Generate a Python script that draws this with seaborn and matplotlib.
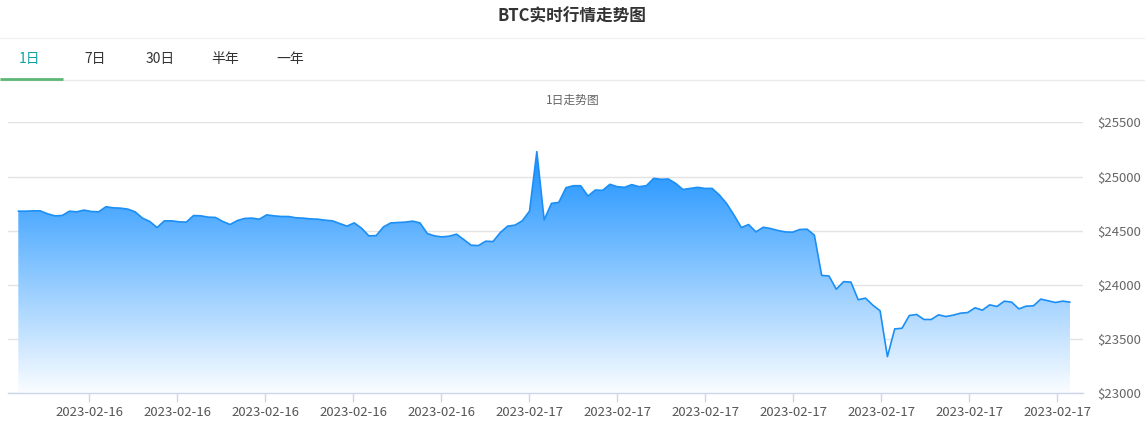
import numpy as np
import pandas as pd
import seaborn as sns
import matplotlib
matplotlib.use("Agg")
import matplotlib.pyplot as plt
from matplotlib.lines import Line2D
from matplotlib.colors import to_rgb

# ---------------- data ----------------
title = "BTC实时行情走势图"
subtitle = "1日走势图"
tabs = ["1日", "7日", "30日", "半年", "一年"]

prices = [
    24680, 24680, 24683, 24683, 24656, 24637, 24640, 24680, 24674, 24690,
    24677, 24674, 24721, 24711, 24708, 24699, 24674, 24616, 24585, 24529,
    24591, 24591, 24582, 24579, 24640, 24637, 24625, 24622, 24585,
    24557, 24594, 24613, 24616, 24606, 24646, 24637, 24631, 24631, 24619,
    24616, 24609, 24606, 24597, 24591, 24566, 24542, 24572, 24523, 24452,
    24455, 24535, 24572, 24575, 24579, 24588, 24572, 24474, 24452,
    24443, 24449, 24468, 24418, 24366, 24363, 24403, 24400, 24483, 24542,
    24551, 24591, 24681, 25230, 24600, 24752, 24761, 24897, 24915, 24915,
    24820, 24875, 24872, 24928, 24906, 24900, 24925, 24906, 24915,
    24983, 24974, 24977, 24937, 24880, 24890, 24900, 24890, 24890, 24829,
    24749, 24644, 24529, 24557, 24489, 24532, 24520, 24502, 24489, 24486,
    24511, 24514, 24459, 24088, 24082, 23960, 24030, 24026,
    23863, 23878, 23813, 23761, 23338, 23594, 23600, 23718, 23727, 23681,
    23681, 23724, 23708, 23721, 23739, 23745, 23789, 23767, 23816, 23801,
    23850, 23841, 23779, 23804, 23807, 23869, 23853, 23838, 23850, 23841,
]
x_labels = ["2023-02-16"] * 5 + ["2023-02-17"] * 7
y_ticks = [23000, 23500, 24000, 24500, 25000, 25500]

df = pd.DataFrame({"idx": np.arange(len(prices)), "price": prices})

# ---------------- style ----------------
sns.set_theme(style="white")
plt.rcParams["font.family"] = ["Noto Sans CJK SC", "DejaVu Sans"]

W, H = 1145, 428
fig = plt.figure(figsize=(W / 100, H / 100), dpi=100)

def fx(px):
    return px / W

def fy(py):
    return 1 - py / H

# axes placement (pixels): left 8, right 1083, top 122.3, bottom 393.3
ax_l, ax_r, ax_t, ax_b = 8, 1083, 122.3, 393.3
ax = fig.add_axes([fx(ax_l), fy(ax_b), fx(ax_r - ax_l), (ax_b - ax_t) / H])

line_color = "#1b8ff5"
fill_rgb = np.array(to_rgb("#1890ff"))

n = len(prices)
x0_px, x1_px = 18.3, 1070.0
step = (x1_px - x0_px) / (n - 1)
xmin = -(x0_px - ax_l) / step
xmax = (n - 1) + (ax_r - x1_px) / step
ymin, ymax = y_ticks[0], y_ticks[-1]

# opaque gradient fill (blue -> white) clipped to the area under the line
poly = ax.fill_between(df["idx"], df["price"], ymin, facecolor="none", edgecolor="none")
top = max(prices)
a = np.linspace(0.02, 1.0, 256)[:, None]
rgb = (1 - a) * np.ones(3) + a * fill_rgb
grad = np.repeat(rgb[:, None, :], 2, axis=1)
im = ax.imshow(grad, extent=[0, n - 1, ymin, top], origin="lower",
               aspect="auto", zorder=2, interpolation="bilinear")
im.set_clip_path(poly.get_paths()[0], transform=ax.transData)

sns.lineplot(data=df, x="idx", y="price", ax=ax, color=line_color,
             linewidth=1.2, zorder=3)

ax.set_xlim(xmin, xmax)
ax.set_ylim(ymin, ymax)

# grid & axes
for s in ["top", "left", "right"]:
    ax.spines[s].set_visible(False)
ax.spines["bottom"].set_color("#ccd6eb")
ax.spines["bottom"].set_linewidth(1.0)
ax.spines["bottom"].set_zorder(4)
ax.set_yticks(y_ticks)
ax.yaxis.grid(True, color="#e3e3e3", linewidth=1.0)
ax.xaxis.grid(False)
ax.set_axisbelow(True)
ax.yaxis.tick_right()
ax.set_yticklabels([f"${v}" for v in y_ticks])
ax.tick_params(axis="y", length=0, pad=10, labelsize=9.5, labelcolor="#666666")

tick_start_px, tick_gap_px = 89, 88
xt = [(tick_start_px + tick_gap_px * k - x0_px) / step for k in range(len(x_labels))]
ax.set_xticks(xt)
ax.set_xticklabels(x_labels)
ax.tick_params(axis="x", direction="out", length=6.5, width=1.0, color="#ccd6eb",
               pad=3, labelsize=9.5, labelcolor="#555555", bottom=True)
ax.set_xlabel("")
ax.set_ylabel("")

# header texts & decorations
fig.text(fx(572), fy(17), title, ha="center", va="center", fontsize=12,
         fontweight="bold", color="#333333")
fig.add_artist(Line2D([0, 1], [fy(38.3), fy(38.3)], transform=fig.transFigure,
                      color="#f2f2f2", linewidth=1))
tab_x = [30, 95, 160, 225, 290]
for i, (t, tx) in enumerate(zip(tabs, tab_x)):
    fig.text(fx(tx), fy(59), t, ha="center", va="center", fontsize=10,
             color="#13a0a0" if i == 0 else "#333333")
fig.add_artist(Line2D([0, 1], [fy(79.5), fy(79.5)], transform=fig.transFigure,
                      color="#ebebeb", linewidth=1))
fig.add_artist(Line2D([0, fx(63)], [fy(78.5), fy(78.5)], transform=fig.transFigure,
                      color="#5cb874", linewidth=2, solid_capstyle="butt"))
fig.text(fx(573), fy(100), subtitle, ha="center", va="center", fontsize=8.5,
         color="#666666")

fig.savefig("out.png", dpi=100)
